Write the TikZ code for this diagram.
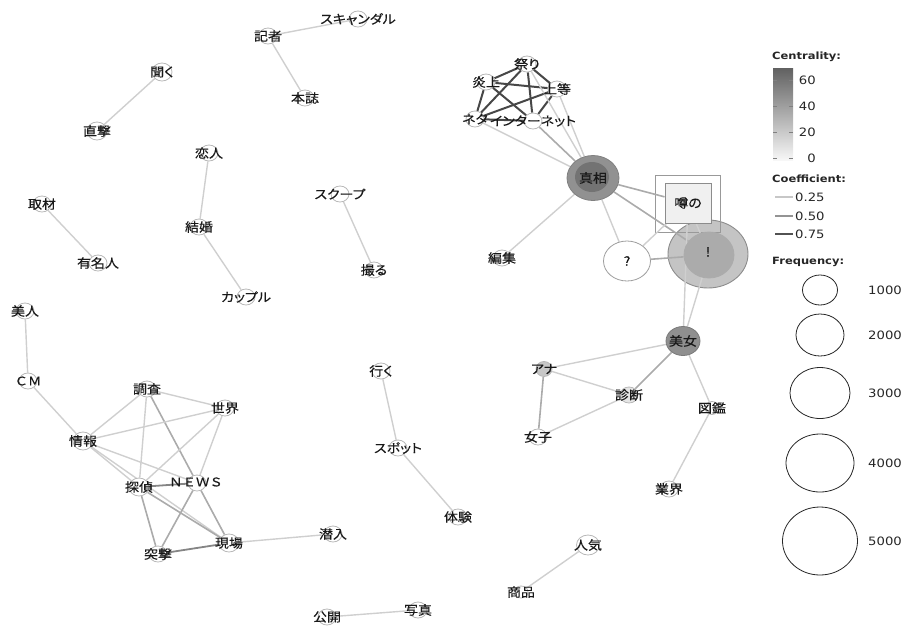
\documentclass[tikz,border=0pt]{standalone}
\usepackage{fontspec}
\usetikzlibrary{shapes.geometric}
\newfontfamily\jp[FakeStretch=1.12,FakeBold=0.3,RawFeature=+palt]{Noto Sans CJK JP}
\newfontfamily\jpw[FakeStretch=1.12,FakeBold=0.3]{Noto Sans CJK JP}
\newfontfamily\lgf[FakeStretch=1.15]{DejaVu Sans}
\pgfdeclarelayer{bgg}\pgfdeclarelayer{bg}\pgfsetlayers{bgg,bg,main}
\tikzset{
 vx/.style={ellipse, draw=black!28, fill=white, line width=0.8pt, inner sep=0pt, minimum width=18pt, minimum height=16pt},
 lab/.style={font=\jp\fontsize{12.5}{12.5}\selectfont, inner sep=0pt, text=black!90},
 labw/.style={font=\jpw\fontsize{12}{12}\selectfont, inner sep=0pt, text=black!90},
 ea/.style={draw=black!19, line width=1.4pt},
 eb/.style={draw=black!33, line width=1.6pt},
 ec/.style={draw=black!48, line width=1.8pt},
 ed/.style={draw=black!72, line width=2pt},
 hdr/.style={font=\lgf\bfseries\fontsize{10}{10}\selectfont, text=black!85, inner sep=0pt, anchor=west},
 num/.style={font=\lgf\fontsize{11.5}{11.5}\selectfont, text=black!85, inner sep=0pt},
 fq/.style={ellipse, draw=black!85, line width=0.8pt, fill=white, inner sep=0pt},
}
\newcommand{\mkv}[5][]{\node[vx,#1] (#2) at (#3) {}; \node[lab] (#2-t) at (#2) {#4};}
\begin{document}
\begin{tikzpicture}[x=1pt,y=-1pt]
\useasboundingbox (0,0) rectangle (906,625);
% ---- top-left words
\mkv{scandal}{358,19}{スキャンダル}{}
\mkv{kisha}{268,36}{記者}{}
\mkv{honshi}{305,98}{本誌}{}
\mkv[minimum width=20pt,minimum height=18pt]{kiku}{162,72}{聞く}{}
\mkv[minimum width=20pt,minimum height=18pt]{chokugeki}{97,131}{直撃}{}
\mkv{koibito}{209,153}{恋人}{}
\mkv{kekkon}{199,227}{結婚}{}
\mkv{couple}{246,297}{カップル}{}
\mkv{shuzai}{42,204}{取材}{}
\mkv{yumeijin}{98,263}{有名人}{}
\mkv{scoop}{340,194}{スクープ}{}
\mkv{toru}{374,270}{撮る}{}
\mkv{bijin}{25,311}{美人}{}
\node[vx] (cm) at (28,381) {}; \node[labw] (cm-t) at (cm) {ＣＭ};
% ---- left cluster
\mkv{chousa}{147,389}{調査}{}
\mkv{sekai}{225,408}{世界}{}
\mkv[minimum width=20pt,minimum height=18pt]{jouhou}{83,441}{情報}{}
\mkv[minimum width=20pt,minimum height=18pt]{tantei}{139,487}{探偵}{}
\node[vx] (news) at (197,483) {}; \node[labw] (news-t) at (196,482) {ＮＥＷＳ};
\mkv[minimum width=20pt,minimum height=18pt]{genba}{229,543}{現場}{}
\mkv{totsugeki}{158,554}{突撃}{}
\mkv{sennyu}{333,534}{潜入}{}
% ---- middle
\mkv{iku}{381,371}{行く}{}
\mkv{spot}{398,448}{スポット}{}
\mkv{taiken}{458,517}{体験}{}
\mkv[minimum width=23pt,minimum height=20pt]{ninki}{588,545}{人気}{}
\mkv[minimum width=14pt,minimum height=12pt]{shouhin}{521,592}{商品}{}
\mkv{shashin}{418,610}{写真}{}
\mkv{koukai}{327,617}{公開}{}
% ---- top-right cluster
\mkv{matsuri}{527,64}{祭り}{}
\mkv{enjou}{486,82}{炎上}{}
\mkv{joutou}{557,89}{上等}{}
\mkv{neta}{475,119}{ネタ}{}
\mkv{internet}{533,121}{インターネット}{}
\node[vx, minimum width=52pt, minimum height=45pt, fill=black!43, draw=black!50] (shinsou) at (593,178) {};
\fill[black!55] (592,177) ellipse [x radius=17, y radius=15];
\node[lab] (shinsou-t) at (shinsou) {真相};
\mkv{henshuu}{502,258}{編集}{}
\node[vx, minimum width=47pt, minimum height=40pt, draw=black!38] (hatena) at (627,261) {};
\node[lab] (hatena-t) at (hatena) {?};
\begin{pgfonlayer}{bgg}
\draw[black!45, line width=0.9pt, fill=black!23] (708,254) ellipse [x radius=40, y radius=34];
\draw[black!40, line width=0.9pt] (655,175) rectangle (720,232);
\end{pgfonlayer}
\node[vx, minimum width=50pt, minimum height=46pt, fill=black!33, draw=black!33] (excl) at (709,255) {};
\node[lab] (excl-t) at (708,252) {!};
\node[rectangle, draw=black!45, line width=0.9pt, fill=black!6, minimum width=46pt, minimum height=40pt, inner sep=0pt] (uwasa) at (688,203) {};
\node[lab] (uwasa-t) at (uwasa) {噂の};
\node[vx, minimum width=34pt, minimum height=29pt, fill=black!44, draw=black!52] (bijo) at (683,341) {};
\node[lab] (bijo-t) at (bijo) {美女};
\mkv[minimum width=16pt,minimum height=15pt,fill=black!22]{ana}{544,369}{アナ}{}
\mkv[fill=black!10]{shindan}{629,395}{診断}{}
\mkv{joshi}{538,437}{女子}{}
\mkv[minimum width=14pt,minimum height=13pt]{zukan}{712,408}{図鑑}{}
\mkv{gyoukai}{669,489}{業界}{}
% ---- edges
\begin{pgfonlayer}{bg}
\draw[ea] (scandal) -- (kisha);
\draw[ea] (kisha) -- (honshi);
\draw[ea] (kiku) -- (chokugeki);
\draw[ea] (koibito) -- (kekkon);
\draw[ea] (kekkon) -- (couple);
\draw[ea] (shuzai) -- (yumeijin);
\draw[ea] (scoop) -- (toru);
\draw[ea] (bijin) -- (cm);
\draw[ea] (cm) -- (jouhou);
\draw[ea] (chousa) -- (sekai);
\draw[ea] (chousa) -- (jouhou);
\draw[ea] (chousa) -- (tantei);
\draw[eb] (chousa) -- (news);
\draw[ea] (sekai) -- (jouhou);
\draw[ea] (sekai) -- (tantei);
\draw[ea] (sekai) -- (news);
\draw[ea] (jouhou) -- (tantei);
\draw[ea] (jouhou) -- (genba);
\draw[ea] (jouhou) -- (news);
\draw[ec] (tantei) -- (news);
\draw[eb] (tantei) -- (totsugeki);
\draw[eb] (tantei) -- (genba);
\draw[eb] (news) -- (totsugeki);
\draw[eb] (news) -- (genba);
\draw[ec] (totsugeki) -- (genba);
\draw[ea] (genba) -- (sennyu);
\draw[ea] (iku) -- (spot);
\draw[ea] (spot) -- (taiken);
\draw[ea] (ninki) -- (shouhin);
\draw[ea] (koukai) -- (shashin);
\draw[ed] (matsuri) -- (enjou);
\draw[ed] (matsuri) -- (joutou);
\draw[ed] (matsuri) -- (neta);
\draw[ed] (matsuri) -- (internet);
\draw[ed] (enjou) -- (joutou);
\draw[ed] (enjou) -- (neta);
\draw[ed] (enjou) -- (internet);
\draw[ed] (joutou) -- (neta);
\draw[ed] (joutou) -- (internet);
\draw[ed] (neta) -- (internet);
\draw[ea] (matsuri) -- (shinsou);
\draw[ea] (joutou) -- (shinsou);
\draw[ea] (neta) -- (shinsou);
\draw[eb] (internet) -- (shinsou);
\draw[ea] (shinsou) -- (henshuu);
\draw[eb] (shinsou) -- (uwasa);
\draw[eb] (shinsou) -- (excl);
\draw[ea] (shinsou) -- (hatena);
\draw[ea] (uwasa) -- (hatena);
\draw[eb] (hatena) -- (excl);
\draw[ea] (uwasa) -- (excl);
\draw[ea] (uwasa) -- (bijo);
\draw[ea] (excl) -- (bijo);
\draw[ea] (bijo) -- (ana);
\draw[eb] (bijo) -- (shindan);
\draw[ea] (bijo) -- (zukan);
\draw[ea] (zukan) -- (gyoukai);
\draw[ea] (ana) -- (shindan);
\draw[eb] (ana) -- (joshi);
\draw[ea] (joshi) -- (shindan);
\end{pgfonlayer}
% ---- legend
\node[hdr] (hcent) at (772,57) {Centrality:};
\shade[top color=black!62, bottom color=black!3] (773,68) rectangle (793,160);
\foreach \yy/\tt in {80/60,106/40,132/20,158/0}{
  \draw[black!50, line width=0.8pt] (773,\yy) -- (777,\yy) (789,\yy) -- (793,\yy);
  \node[num, anchor=east] at (816,\yy) {\tt};
}
\node[hdr] (hcoef) at (772,179) {Coefficient:};
\draw[draw=black!22, line width=1.2pt] (775,197) -- (793,197);
\draw[draw=black!42, line width=1.6pt] (775,216) -- (793,216);
\draw[draw=black!68, line width=2pt] (775,234) -- (793,234);
\node[num, anchor=west] at (795,197) {0.25};
\node[num, anchor=west] at (795,216) {0.50};
\node[num, anchor=west] at (795,234) {0.75};
\node[hdr] (hfreq) at (772,262) {Frequency:};
\node[fq, minimum width=35pt, minimum height=30pt] (f1) at (820,290) {};
\node[fq, minimum width=48pt, minimum height=42pt] (f2) at (820,335) {};
\node[fq, minimum width=60pt, minimum height=51pt] (f3) at (820,393) {};
\node[fq, minimum width=68pt, minimum height=58pt] (f4) at (820,463) {};
\node[fq, minimum width=75pt, minimum height=68pt] (f5) at (820,541) {};
\node[num, anchor=west] at (868,290) {1000};
\node[num, anchor=west] at (868,335) {2000};
\node[num, anchor=west] at (868,393) {3000};
\node[num, anchor=west] at (868,463) {4000};
\node[num, anchor=west] at (868,541) {5000};
\end{tikzpicture}
\end{document}
